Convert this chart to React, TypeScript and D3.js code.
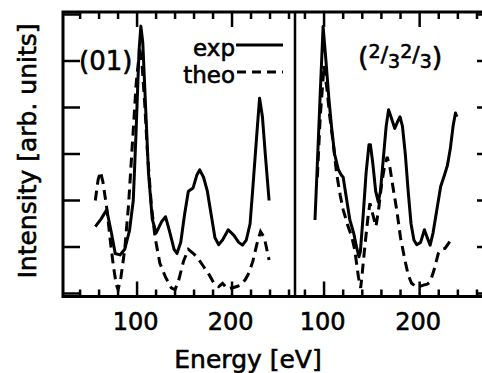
import React from 'react';
import * as d3 from 'd3';

// (01) panel, energies in eV and intensities in arb. units
const leftExpEnergy = [56, 62, 68, 73, 77, 82, 87, 92, 96, 99, 102, 104, 106, 109, 112, 116, 120, 126, 130, 134, 139, 142, 146, 150, 154, 159, 163, 166, 170, 174, 178, 182, 186, 190, 196, 202, 207, 211, 215, 219, 222, 226, 229, 232, 235, 239];
const leftExp = [1.44, 1.6, 1.8, 1.3, 0.86, 0.83, 0.95, 1.35, 2.0, 3.5, 5.2, 5.75, 5.4, 4.0, 2.6, 1.6, 1.3, 1.55, 1.65, 1.35, 0.95, 0.86, 1.1, 1.7, 2.2, 2.27, 2.55, 2.66, 2.5, 2.2, 1.7, 1.2, 1.05, 1.15, 1.37, 1.25, 1.1, 1.04, 1.15, 1.5, 2.3, 3.4, 4.2, 3.8, 3.0, 2.0];
const leftTheoEnergy = [56, 59, 61.5, 64, 68, 72, 75, 78, 80, 83, 87, 91, 95, 99, 102, 103.5, 105, 108, 111, 115, 119, 124, 130, 136, 140, 144, 149, 154, 160, 166, 170, 176, 181, 186, 190, 195, 200, 205, 209, 214, 218, 222, 226, 230, 234, 239];
const leftTheo = [2.0, 2.45, 2.62, 2.4, 1.85, 1.1, 0.6, 0.2, 0.08, 0.35, 0.95, 1.9, 3.2, 4.5, 5.1, 5.17, 5.0, 4.1, 3.0, 1.9, 1.2, 0.65, 0.35, 0.12, 0.08, 0.3, 0.7, 0.95, 0.85, 0.7, 0.58, 0.4, 0.22, 0.15, 0.22, 0.1, 0.12, 0.15, 0.18, 0.3, 0.45, 0.7, 1.05, 1.33, 1.2, 0.72];

// (2/3 2/3) panel
const rightExpEnergy = [90.5, 93, 96, 99, 102, 105, 108, 111, 115, 118, 120, 123, 127, 131, 134, 136.5, 138, 141, 144, 147, 148.5, 151, 154, 156.7, 159, 162, 165, 167.5, 170, 174, 177, 179.5, 182, 185, 188, 191, 194, 197, 201, 205, 208, 211, 214, 218, 222, 226, 229, 232, 235, 237.5, 239];
const rightExp = [1.58, 2.8, 4.3, 5.74, 5.0, 4.2, 3.55, 3.0, 2.66, 2.55, 2.5, 2.1, 1.58, 1.3, 1.0, 0.79, 0.9, 1.7, 2.6, 3.2, 3.2, 2.8, 2.2, 1.97, 2.2, 2.9, 3.6, 3.95, 3.8, 3.55, 3.7, 3.8, 3.6, 3.0, 2.2, 1.5, 1.15, 1.05, 1.1, 1.37, 1.2, 1.04, 1.3, 1.8, 2.3, 2.55, 2.75, 3.1, 3.6, 3.88, 3.8];
const rightTheoEnergy = [93, 96, 100, 103, 106, 109.6, 113, 117, 120, 125, 129, 132, 134, 136, 138.3, 140, 143, 146, 148, 151, 154.3, 157, 160.3, 163, 166, 169, 172, 176, 180, 184.6, 188, 191.6, 196, 200, 204, 208, 211, 215, 219.5, 223, 226.5, 231, 235];
const rightTheo = [2.5, 3.8, 4.9, 4.4, 3.8, 3.23, 2.6, 2.1, 1.8, 1.45, 1.22, 0.95, 0.65, 0.35, 0.12, 0.45, 1.08, 1.65, 1.94, 1.7, 1.44, 1.8, 2.37, 2.7, 2.94, 2.7, 2.3, 1.8, 1.2, 0.72, 0.4, 0.22, 0.15, 0.15, 0.18, 0.2, 0.25, 0.5, 0.86, 0.95, 0.97, 1.1, 1.22];

const xTicksLeft = [40, 60, 80, 100, 120, 140, 160, 180, 200, 220, 240, 260];
const xTicksRight = [80, 100, 120, 140, 160, 180, 200, 220, 240, 260];
const majorTicks = [100, 200];
const yTicks = [0, 1, 2, 3, 4, 5, 6];

const FONT = 'DejaVu Sans';
const W = 482;
const H = 373;
const top = 12;
const bottom = 296.5;
const left = 63;
const divider = 295;
const right = 494;

// glyphs in the reference are a little heavier than DejaVu Book
const heavy = { stroke: '#000', strokeWidth: 0.6 };

const App: React.FC = () => {
  const y = d3.scaleLinear().domain([0, 6]).range([293.5, 14.5]);
  const xL = d3.scaleLinear().domain([22, 266.3]).range([left, divider]);
  const xR = d3.scaleLinear().domain([69.6, 277.8]).range([divider, right]);

  const line = (x: d3.ScaleLinear<number, number>, es: number[], vs: number[]) =>
    d3.line<number>().x((_, i) => x(es[i])).y(d => y(d))(vs) || '';

  const xTickMarks = (x: d3.ScaleLinear<number, number>, ticks: number[], key: string) =>
    ticks.map(t => {
      const len = majorTicks.includes(t) ? 15 : 7;
      return (
        <g key={key + t}>
          <line x1={x(t)} x2={x(t)} y1={top} y2={top + len} stroke="#000" strokeWidth={2.5} />
          <line x1={x(t)} x2={x(t)} y1={bottom} y2={bottom - len} stroke="#000" strokeWidth={2.5} />
        </g>
      );
    });

  const dash = '10,6';

  return (
    <svg width={W} height={H} style={{ position: 'absolute', left: 0, top: 0, background: '#fff' }}>
      <rect width={W} height={H} fill="#fff" />
      {/* frame */}
      <rect x={left} y={top} width={right - left} height={bottom - top} fill="none" stroke="#000" strokeWidth={3} />
      <line x1={divider} x2={divider} y1={top} y2={bottom} stroke="#000" strokeWidth={2.5} />

      {xTickMarks(xL, xTicksLeft, 'l')}
      {xTickMarks(xR, xTicksRight, 'r')}

      {yTicks.map(t => (
        <g key={'y' + t}>
          <line x1={left} x2={left + 17} y1={y(t)} y2={y(t)} stroke="#000" strokeWidth={2.5} />
          <line x1={right} x2={right - 17} y1={y(t)} y2={y(t)} stroke="#000" strokeWidth={2.5} />
        </g>
      ))}

      {/* curves */}
      <path d={line(xL, leftExpEnergy, leftExp)} fill="none" stroke="#000" strokeWidth={3} strokeLinejoin="round" />
      <path d={line(xL, leftTheoEnergy, leftTheo)} fill="none" stroke="#000" strokeWidth={3} strokeDasharray={dash} />
      <path d={line(xR, rightExpEnergy, rightExp)} fill="none" stroke="#000" strokeWidth={3} strokeLinejoin="round" />
      <path d={line(xR, rightTheoEnergy, rightTheo)} fill="none" stroke="#000" strokeWidth={3} strokeDasharray={dash} />

      {/* tick labels */}
      {majorTicks.map(t => (
        <text key={'tl' + t} x={xL(t) - 1.5} y={330} textAnchor="middle" fontFamily={FONT} fontSize={24} {...heavy}>{t}</text>
      ))}
      {majorTicks.map(t => (
        <text key={'tr' + t} x={xR(t) - 1.5} y={330} textAnchor="middle" fontFamily={FONT} fontSize={24} {...heavy}>{t}</text>
      ))}

      {/* panel labels */}
      <text x={79} y={70} fontFamily={FONT} fontSize={26} {...heavy}>(01)</text>
      <text x={358} y={66} fontFamily={FONT} fontSize={27} {...heavy}>
        (
        <tspan fontSize={19} dy={-8}>2</tspan>
        <tspan fontSize={22} dy={4}>/</tspan>
        <tspan fontSize={19} dy={6}>3</tspan>
        <tspan fontSize={19} dy={-10}>2</tspan>
        <tspan fontSize={22} dy={4}>/</tspan>
        <tspan fontSize={19} dy={6}>3</tspan>
        <tspan dy={-2}>)</tspan>
      </text>

      {/* legend */}
      <text x={235} y={56} textAnchor="end" fontFamily={FONT} fontSize={23} {...heavy}>exp</text>
      <line x1={236} x2={283} y1={45} y2={45} stroke="#000" strokeWidth={3} />
      <text x={235} y={83} textAnchor="end" fontFamily={FONT} fontSize={23} {...heavy}>theo</text>
      <line x1={237} x2={283} y1={72} y2={72} stroke="#000" strokeWidth={3} strokeDasharray="9,6" />

      {/* axis titles */}
      <text x={248} y={368} textAnchor="middle" fontFamily={FONT} fontSize={25} {...heavy}>Energy [eV]</text>
      <text transform="translate(36,151) rotate(-90)" textAnchor="middle" fontFamily={FONT} fontSize={25} {...heavy}>Intensity [arb. units]</text>
    </svg>
  );
};

export default App;
